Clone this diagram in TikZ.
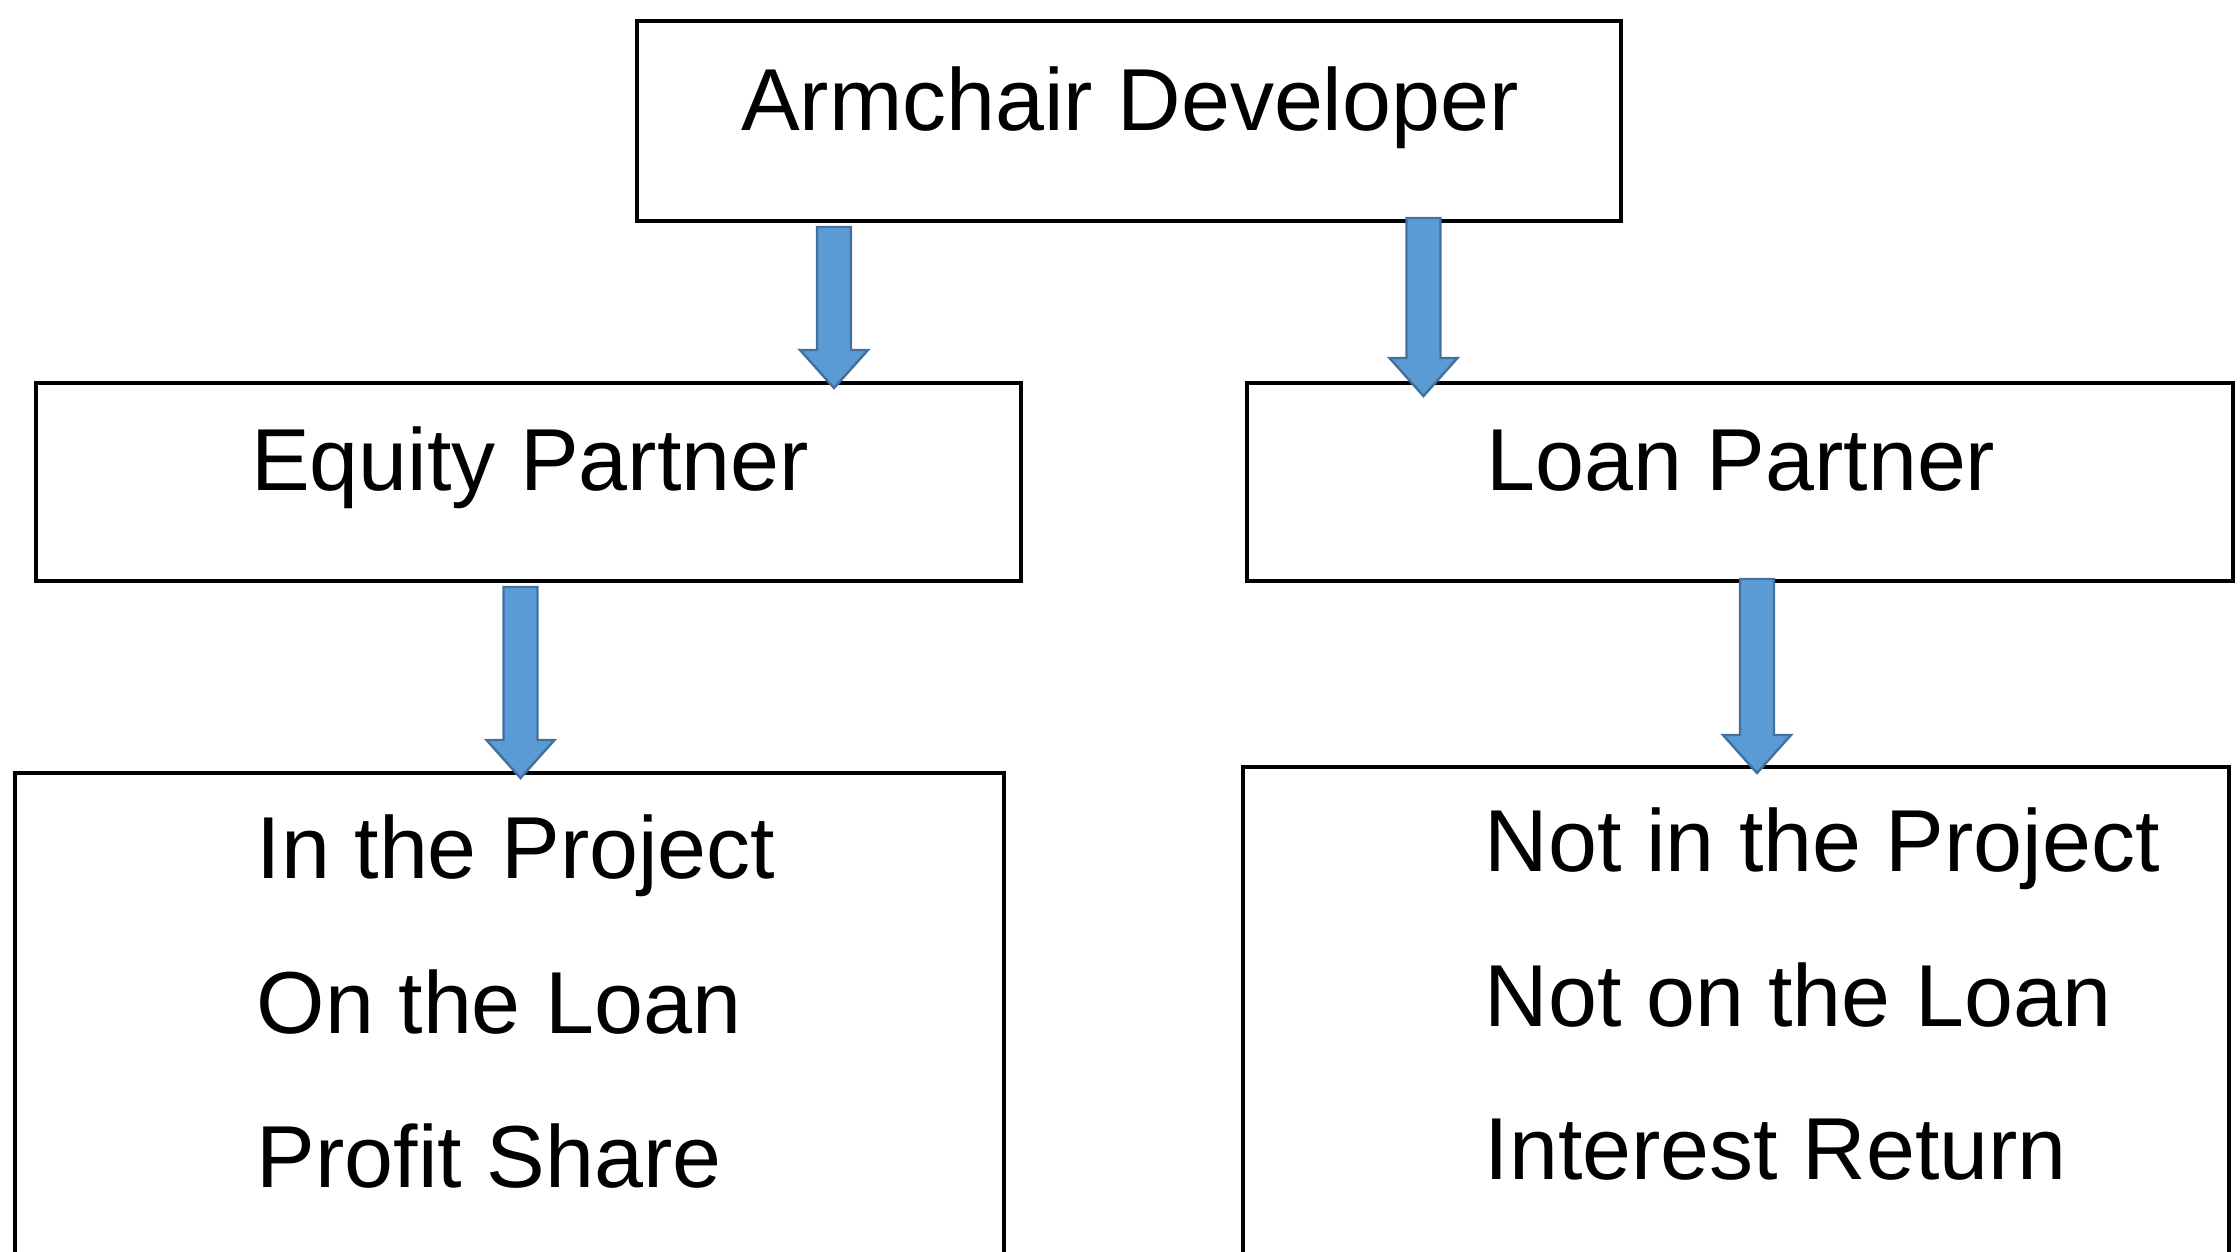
\documentclass[tikz,border=0pt]{standalone}
\usepackage{fontspec}
\setmainfont{Liberation Sans}
\usetikzlibrary{calc}

\definecolor{arrowfill}{HTML}{5B9BD5}
\definecolor{arrowline}{HTML}{41719C}
\newcommand{\pxu}{0.25pt}

\tikzset{
    box/.style={rectangle, draw, line width=1.1pt, inner sep=0pt},
    txt/.style={inner sep=0pt, font=\fontsize{22pt}{26pt}\selectfont},
    blockarrow/.style={draw=arrowline, fill=arrowfill, line width=0.6pt,
        to path={let \p1=(\tikztostart), \p2=(\tikztotarget) in
            (\x1-4.25pt,\y1) -- (\x1+4.25pt,\y1) -- (\x1+4.25pt,\y2+9.5pt)
            -- (\x1+8.5pt,\y2+9.5pt) -- (\x2,\y2) -- (\x1-8.5pt,\y2+9.5pt)
            -- (\x1-4.25pt,\y2+9.5pt) -- cycle}}
}

\begin{document}
\begin{tikzpicture}[x=\pxu, y=-\pxu]
        \useasboundingbox (0,0) rectangle (2240,1252);
        \clip (0,0) rectangle (2240,1252);

        %boxes
        \node[box, minimum width=984*\pxu, minimum height=200*\pxu] (dev) at (1129, 121) {};
        \node[box, minimum width=985*\pxu, minimum height=198*\pxu] (equity) at (528.5, 482) {};
        \node[box, minimum width=986*\pxu, minimum height=198*\pxu] (loan) at (1740, 482) {};
        \node[box, minimum width=989*\pxu, minimum height=527*\pxu] (inproj) at (509.5, 1036.5) {};
        \node[box, minimum width=986*\pxu, minimum height=533*\pxu] (outproj) at (1736, 1033.5) {};

        %texts
        \node[txt, anchor=base] (devtxt) at (1130, 131) {Armchair Developer};
        \node[txt, anchor=base] (equitytxt) at (530, 490) {Equity Partner};
        \node[txt, anchor=base] (loantxt) at (1741, 490) {Loan Partner};
        \node[txt, anchor=base west] (in1) at (256, 878) {In the Project};
        \node[txt, anchor=base west] (in2) at (256, 1033) {On the Loan};
        \node[txt, anchor=base west] (in3) at (256, 1187) {Profit Share};
        \node[txt, anchor=base west] (out1) at (1484, 871) {Not in the Project};
        \node[txt, anchor=base west] (out2) at (1484, 1026) {Not on the Loan};
        \node[txt, anchor=base west] (out3) at (1484, 1179) {Interest Return};

        %arrow ends
        \coordinate (a1s) at (834, 227);
        \coordinate (a1e) at (834, 388);
        \coordinate (a2s) at (1423.5, 218);
        \coordinate (a2e) at (1423.5, 396);
        \coordinate (a3s) at (520.5, 587);
        \coordinate (a3e) at (520.5, 778);
        \coordinate (a4s) at (1757, 579);
        \coordinate (a4e) at (1757, 773);

        %arrows
        \draw[blockarrow] (a1s) to (a1e);
        \draw[blockarrow] (a2s) to (a2e);
        \draw[blockarrow] (a3s) to (a3e);
        \draw[blockarrow] (a4s) to (a4e);
    \end{tikzpicture}
\end{document}
